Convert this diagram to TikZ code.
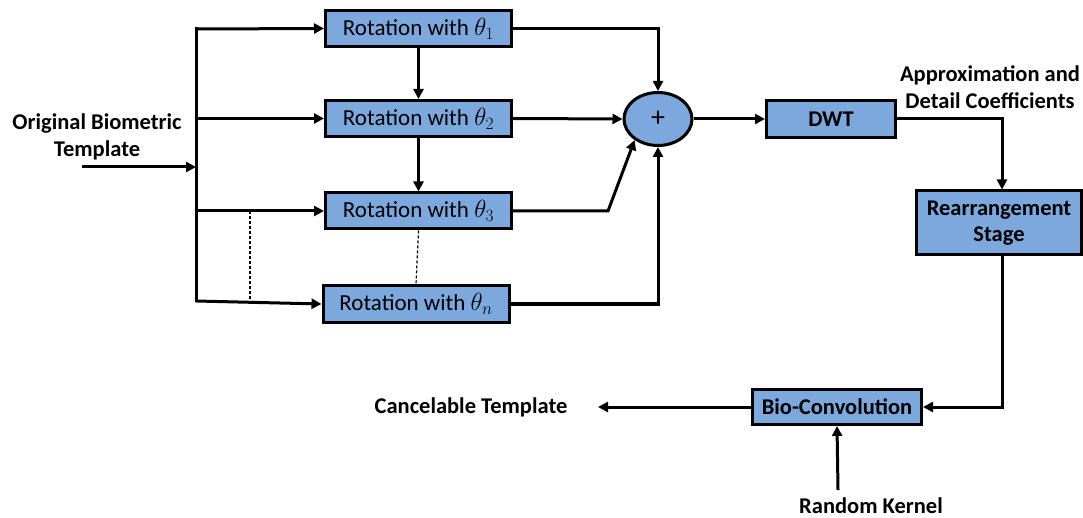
\documentclass[tikz,border=0pt]{standalone}
\usepackage{fontspec}
\setmainfont{Carlito}
\usetikzlibrary{arrows.meta,shapes.geometric}
\definecolor{boxblue}{RGB}{124,168,222}
\begin{document}
\begin{tikzpicture}[x=1pt,y=-1pt,
  blk/.style={draw=black,line width=3pt,fill=boxblue,inner sep=0pt,
              font=\fontsize{23}{25}\selectfont},
  bblk/.style={blk,font=\bfseries\fontsize{22.5}{25}\selectfont,align=center},
  conn/.style={line width=3pt,-{Triangle[length=10pt,width=10pt]}},
  plain/.style={line width=3pt},
  dots/.style={line width=1.2pt,dash pattern=on 3pt off 2pt},
  lbl/.style={font=\bfseries\fontsize{22.5}{27}\selectfont,align=center}]
\useasboundingbox (0,0) rectangle (1083,518);

% rotation stages
\node[blk,minimum width=186pt,minimum height=36pt] (r1) at (418.5,28.5) {Rotation with $\theta_1$};
\node[blk,minimum width=186pt,minimum height=36pt] (r2) at (418.5,118.5) {Rotation with $\theta_2$};
\node[blk,minimum width=186pt,minimum height=36pt] (r3) at (418.5,211) {Rotation with $\theta_3$};
\node[blk,minimum width=186pt,minimum height=36pt] (rn) at (416,304) {Rotation with $\theta_n$};

% summation and later stages
\node[ellipse,draw=black,line width=3pt,fill=boxblue,minimum width=68pt,minimum height=53pt,
      inner sep=0pt,font=\fontsize{28}{30}\selectfont] (sum) at (658,119) {+};
\node[bblk,minimum width=129pt,minimum height=37pt] (dwt) at (831,119) {DWT};
\node[bblk,minimum width=165pt,minimum height=64pt] (rear) at (999,223) {Rearrangement\\[1pt]Stage};
\node[bblk,minimum width=169pt,minimum height=35pt] (bio) at (837,407) {Bio-Convolution};

% labels
\node[lbl] (orig) at (97,137) {Original Biometric\\Template};
\node[lbl] (coef) at (990,87) {Approximation and\\Detail Coefficients};
\node[lbl] (cancel) at (471,407) {Cancelable Template};
\node[lbl] (kernel) at (871,506) {Random Kernel};

% distribution bus
\coordinate (src) at (82,167);
\coordinate (join) at (196,167);
\coordinate (bt) at (196,29);
\coordinate (bb) at (196,301);
\coordinate (dtop) at (250,211);
\coordinate (dbot) at (250,301);
\coordinate (bend3) at (608,211);
\coordinate (ctip) at (598,407);
\coordinate (kin) at (838,490);

\draw[conn] (src) -- (join);
\draw[plain,line cap=rect] (bt) -- (bb);
\draw[conn] (bt) -- (r1.west);
\draw[conn] (bt |- r2.west) -- (r2.west);
\draw[conn] (bt |- r3.west) -- (r3.west);
\draw[conn] (bb) -- (rn.west);
\draw[dots] (dtop) -- (dbot);
\draw[dots] (r3.south) -- (rn.north);

% cascade between stages
\draw[conn] (r1.south) -- (r2.north);
\draw[conn] (r2.south) -- (r3.north);

% into the summation
\draw[conn] (r1.east) -| (sum.north);
\draw[conn] (r2.east) -- (sum.west);
\draw[conn] (r3.east) -- (bend3) -- (sum.222);
\draw[conn] (rn.east) -| (sum.south);

% downstream chain
\draw[conn] (sum.east) -- (dwt.west);
\draw[conn] (dwt.east) -| ([xshift=3pt]rear.north);
\draw[conn] ([xshift=3pt]rear.south) |- (bio.east);
\draw[conn] (bio.west) -- (ctip);
\draw[conn] (kin) -- (bio.south);
\end{tikzpicture}
\end{document}
